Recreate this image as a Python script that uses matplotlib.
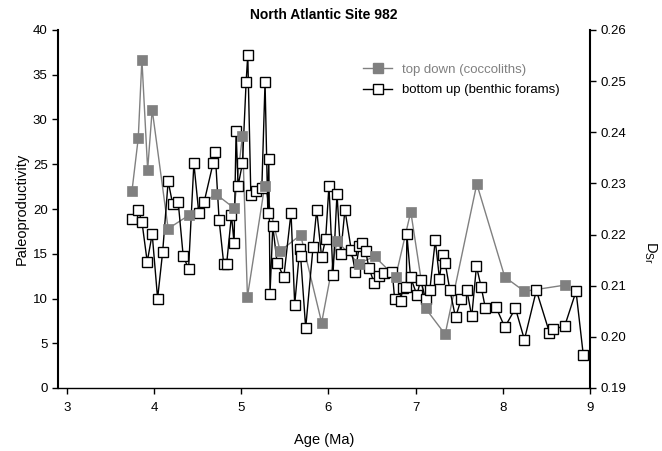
import matplotlib
matplotlib.use("Agg")
import matplotlib.pyplot as plt

plt.rcParams['font.family'] = ['Liberation Sans', 'DejaVu Sans']

# top down (coccoliths)
top_age = [3.748, 3.820, 3.862, 3.928, 3.980, 4.163, 4.400, 4.706, 4.919, 5.015,
           5.072, 5.270, 5.446, 5.682, 5.923, 6.099, 6.347, 6.530, 6.771, 6.945,
           7.114, 7.339, 7.702, 8.023, 8.248, 8.714]
top_val = [22.0, 27.9, 36.7, 24.4, 31.1, 17.8, 19.3, 21.7, 20.1, 28.2,
           10.2, 22.6, 15.3, 17.1, 7.3, 16.4, 13.9, 14.7, 12.4, 19.7,
           8.9, 6.0, 22.8, 12.4, 10.8, 11.5]

# bottom up (benthic forams)
bot_age = [3.744, 3.820, 3.862, 3.923, 3.980, 4.042, 4.100, 4.163, 4.214, 4.278,
           4.335, 4.397, 4.458, 4.515, 4.576, 4.678, 4.702, 4.747, 4.801, 4.833,
           4.889, 4.919, 4.942, 4.965, 5.015, 5.057, 5.076, 5.111, 5.176, 5.237,
           5.274, 5.306, 5.317, 5.331, 5.363, 5.412, 5.489, 5.572, 5.614, 5.671,
           5.682, 5.740, 5.824, 5.866, 5.923, 5.969, 6.007, 6.053, 6.099, 6.141,
           6.190, 6.263, 6.309, 6.355, 6.389, 6.428, 6.465, 6.527, 6.580, 6.637,
           6.733, 6.760, 6.828, 6.854, 6.894, 6.900, 6.942, 7.015, 7.060, 7.114,
           7.164, 7.226, 7.274, 7.309, 7.339, 7.392, 7.458, 7.526, 7.587, 7.644,
           7.698, 7.752, 7.801, 7.919, 8.023, 8.145, 8.248, 8.385, 8.535, 8.580,
           8.709, 8.840, 8.923]
bot_val = [18.9, 19.9, 18.6, 14.1, 17.2, 10.0, 15.2, 23.1, 20.6, 20.8,
           14.8, 13.3, 25.1, 19.5, 20.8, 25.1, 26.4, 18.8, 13.8, 13.8,
           19.3, 16.2, 28.7, 22.6, 25.1, 34.2, 37.2, 21.6, 22.0, 22.3,
           34.2, 19.5, 25.6, 10.5, 18.1, 14.0, 12.4, 19.6, 9.3, 15.5,
           14.7, 6.7, 15.7, 19.9, 14.6, 16.7, 22.6, 12.6, 21.7, 15.0,
           19.9, 15.4, 13.0, 15.9, 16.2, 15.3, 13.4, 11.7, 12.5, 12.9,
           13.0, 9.9, 9.7, 11.2, 11.3, 17.2, 12.4, 10.4, 12.1, 9.9,
           11.0, 16.5, 12.2, 14.9, 14.0, 11.0, 7.9, 10.0, 11.0, 8.0,
           13.6, 11.3, 8.9, 9.1, 6.8, 8.9, 5.4, 10.9, 6.2, 6.6,
           6.9, 10.8, 3.7]

x_ticks = [3, 4, 5, 6, 7, 8, 9]
y_ticks = [0, 5, 10, 15, 20, 25, 30, 35, 40]
y2_ticks = [0.19, 0.20, 0.21, 0.22, 0.23, 0.24, 0.25, 0.26]

gray = '#808080'

fig = plt.figure(figsize=(6.62, 4.51), dpi=100)
ax = fig.add_axes([58/662, 1-388/451, (590-58)/662, (388-30)/451])

ax.plot(top_age, top_val, color=gray, lw=1.0, zorder=2)
ax.plot(bot_age, bot_val, color='black', lw=1.0, zorder=2.5)
ax.plot(bot_age, bot_val, ls='none', marker='s', ms=6.5, mfc='white',
        mec='black', mew=1.0, zorder=3)
ax.plot(top_age, top_val, ls='none', marker='s', ms=6.5, mfc=gray,
        mec=gray, mew=0.5, zorder=4)

# legend proxies
h1, = ax.plot([], [], color=gray, lw=1.0, marker='s', ms=6.5, mfc=gray, mec=gray)
h2, = ax.plot([], [], color='black', lw=1.0, marker='s', ms=6.5, mfc='white', mec='black')
leg = ax.legend([h1, h2], ['top down (coccoliths)', 'bottom up (benthic forams)'],
                loc='upper left', bbox_to_anchor=((358-58)/532, 1-(58-30)/358),
                frameon=False, fontsize=9.5, handlelength=2.2, handletextpad=0.7,
                labelspacing=0.65, borderaxespad=0)
leg.get_texts()[0].set_color(gray)

ax.set_xlim(2.9, 9)
ax.set_ylim(0, 40)
ax.set_xticks(x_ticks)
ax.set_yticks(y_ticks)
ax.spines['top'].set_visible(False)
ax.spines['right'].set_visible(False)
ax.tick_params(direction='out', length=4, width=1, labelsize=9.5)
ax.tick_params(axis='x', pad=6)
ax.set_xlabel('Age (Ma)', fontsize=10.5)
ax.xaxis.set_label_coords(0.5, -(440-388)/358)
ax.xaxis.label.set_va('center')
ax.set_ylabel('Paleoproductivity', fontsize=10.5)
ax.yaxis.set_label_coords((22-58)/532, 0.5)
ax.yaxis.label.set_va('center')
ax.set_title('North Atlantic Site 982', fontsize=10, fontweight='bold', pad=8)

ax2 = ax.twinx()
ax2.set_ylim(0.19, 0.26)
ax2.set_yticks(y2_ticks)
ax2.set_yticklabels(['%.2f' % v for v in y2_ticks])
for s in ['top', 'left', 'bottom']:
    ax2.spines[s].set_visible(False)
ax2.spines['right'].set_linewidth(1.5)
ax.spines['left'].set_linewidth(1.5)
ax.spines['bottom'].set_linewidth(1.0)
ax2.tick_params(direction='out', length=4, width=1, labelsize=9.5)

fig.text(0.982, 1-252/451, 'D$_{\\mathregular{Sr}}$', rotation=270, fontsize=10.5,
         ha='center', va='center')

fig.savefig('out.png', dpi=100)
